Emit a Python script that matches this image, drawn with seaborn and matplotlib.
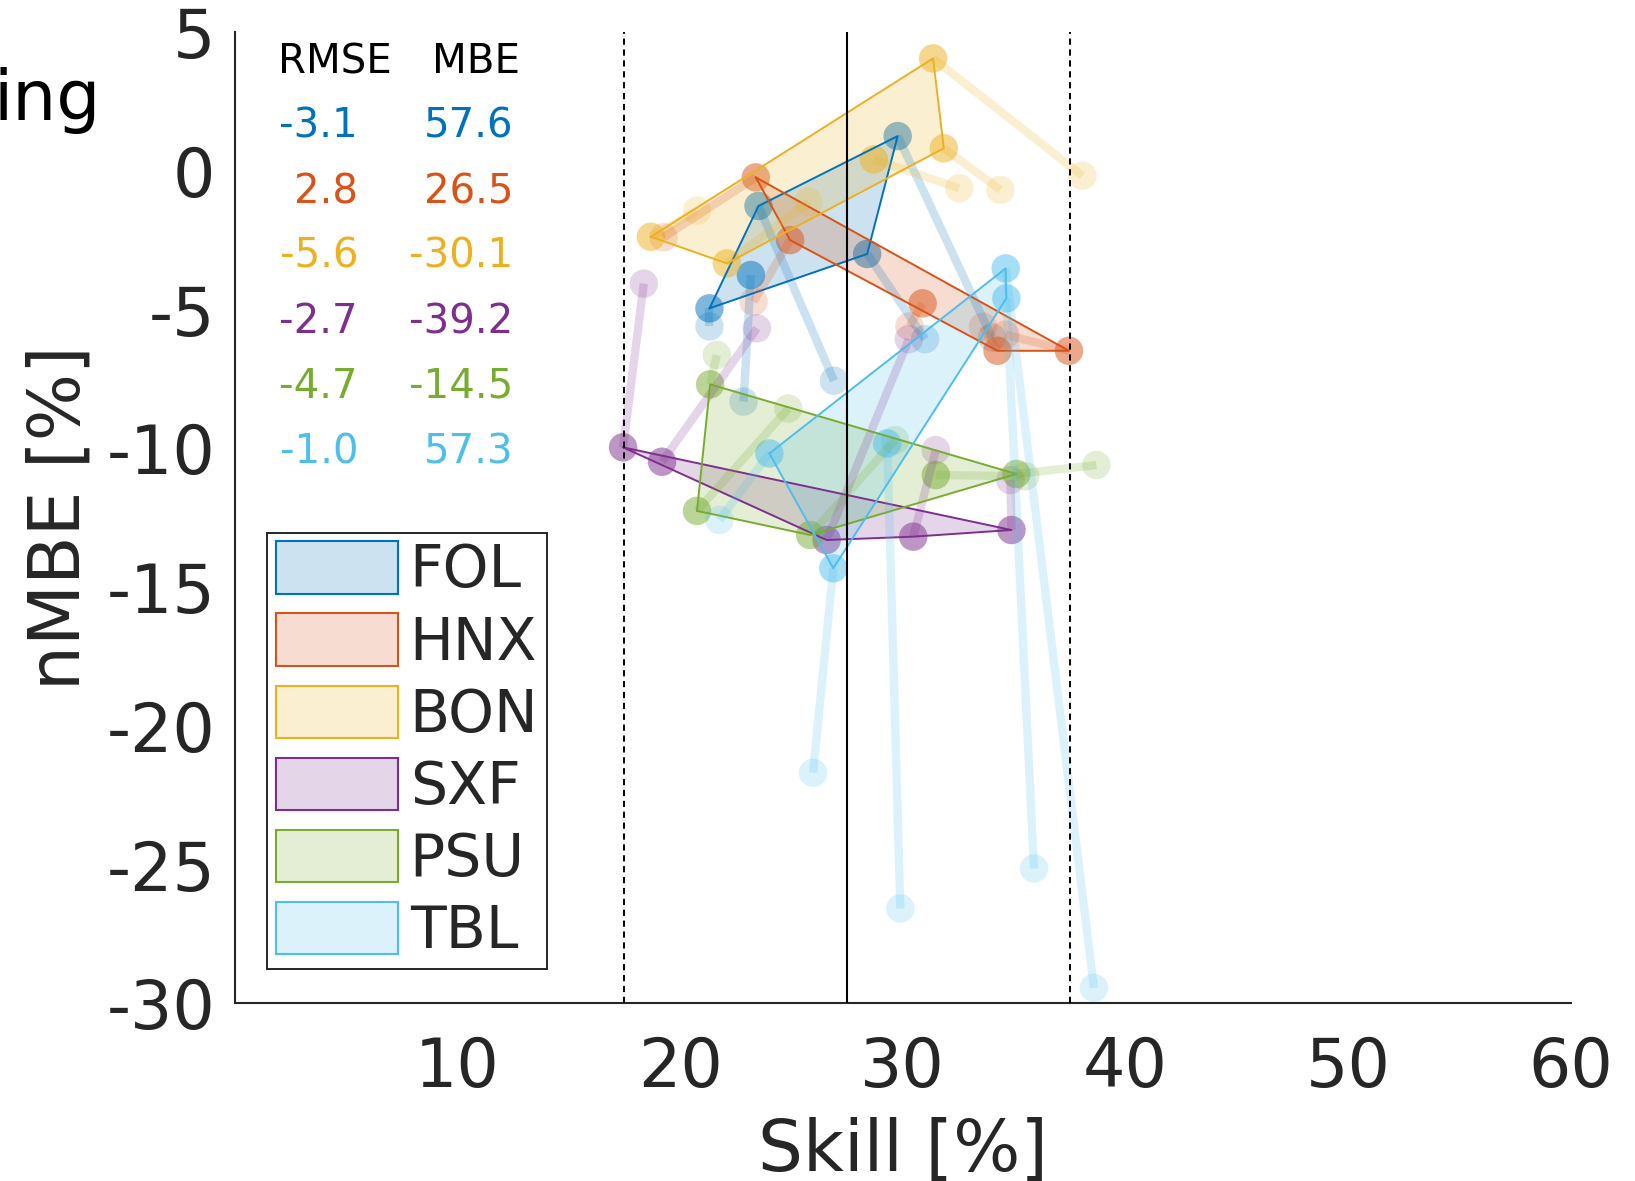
import numpy as np
import pandas as pd
import matplotlib
matplotlib.use("Agg")
import matplotlib.pyplot as plt
import seaborn as sns
from matplotlib.patches import Patch
from matplotlib.colors import to_rgba

# ---------------- data ----------------
stations = ["FOL", "HNX", "BON", "SXF", "PSU", "TBL"]
colors = ["#0072BD", "#D95319", "#EDB120", "#7E2F8E", "#77AC30", "#4DBEEE"]

# highlighted configuration (solid markers, hull polygon)
skill_main = [
    [29.77, 28.40, 21.32, 23.52, 23.18],
    [23.40, 24.94, 30.89, 34.25, 37.46],
    [18.69, 31.36, 31.84, 22.10, 28.70],
    [17.44, 19.19, 26.58, 30.47, 34.88],
    [21.35, 20.76, 25.84, 31.48, 35.10],
    [24.01, 26.88, 34.62, 34.65, 29.30],
]
nmbe_main = [
    [1.26, -2.99, -4.95, -1.26, -3.75],
    [-0.23, -2.49, -4.77, -6.48, -6.48],
    [-2.37, 4.06, 0.82, -3.33, 0.42],
    [-9.96, -10.48, -13.30, -13.18, -12.94],
    [-7.69, -12.25, -13.12, -10.96, -10.92],
    [-10.18, -14.32, -3.51, -4.59, -9.82],
]
# alternative configuration (faint markers, linked to the main ones)
skill_alt = [
    [34.00, 31.00, 21.32, 26.91, 22.85],
    [19.26, 23.30, 30.30, 33.60, 34.60],
    [20.76, 38.06, 34.38, 25.76, 32.53],
    [18.37, 23.45, 30.27, 31.48, 34.83],
    [21.65, 24.86, 29.65, 35.50, 38.69],
    [21.77, 25.97, 38.58, 35.89, 29.89],
]
nmbe_alt = [
    [-6.00, -6.06, -5.60, -7.56, -8.31],
    [-2.39, -4.71, -5.60, -5.61, -5.90],
    [-1.43, -0.17, -0.68, -1.11, -0.62],
    [-4.06, -5.67, -6.06, -10.06, -11.14],
    [-6.63, -8.56, -9.70, -11.00, -10.60],
    [-12.58, -21.69, -29.44, -25.14, -26.58],
]
rmse_change = [-3.1, 2.8, -5.6, -2.7, -4.7, -1.0]
mbe_change = [57.6, 26.5, -30.1, -39.2, -14.5, 57.3]

x_ticks = [10, 20, 30, 40, 50, 60]
y_ticks = [5, 0, -5, -10, -15, -20, -25, -30]
skill_center = 27.5
skill_band = [17.5, 37.5]


def convex_hull(xs, ys):
    pts = sorted(set(zip(xs, ys)))

    def cross(o, a, b):
        return (a[0] - o[0]) * (b[1] - o[1]) - (a[1] - o[1]) * (b[0] - o[0])

    lower, upper = [], []
    for p in pts:
        while len(lower) >= 2 and cross(lower[-2], lower[-1], p) <= 0:
            lower.pop()
        lower.append(p)
    for p in reversed(pts):
        while len(upper) >= 2 and cross(upper[-2], upper[-1], p) <= 0:
            upper.pop()
        upper.append(p)
    hull = lower[:-1] + upper[:-1]
    return [p[0] for p in hull], [p[1] for p in hull]


# ---------------- style ----------------
sns.set_theme(style="white")
plt.rcParams["font.family"] = ["DejaVu Sans"]
dark = "#262626"

W, H = 1635, 1181
fig = plt.figure(figsize=(W / 100, H / 100), dpi=100)
ax = fig.add_axes([234.6 / W, 1 - 1003.3 / H, (1571 - 234.6) / W, (1003.3 - 32.3) / H])

for i, st in enumerate(stations):
    c = colors[i]
    n = len(skill_main[i])
    df_lines = pd.DataFrame({
        "skill": skill_main[i] + skill_alt[i],
        "nmbe": nmbe_main[i] + nmbe_alt[i],
        "pair": list(range(n)) * 2,
    })
    sns.lineplot(data=df_lines, x="skill", y="nmbe", units="pair", estimator=None,
                 sort=False, color=c, lw=6, alpha=0.2, ax=ax, legend=False,
                 solid_capstyle="butt")
    sns.scatterplot(x=skill_alt[i], y=nmbe_alt[i], color=c, alpha=0.2, s=420,
                    edgecolor="none", ax=ax, legend=False)
    sns.scatterplot(x=skill_main[i], y=nmbe_main[i], color=c, alpha=0.5, s=420,
                    edgecolor="none", ax=ax, legend=False)
    hx, hy = convex_hull(skill_main[i], nmbe_main[i])
    ax.fill(hx, hy, color=c, alpha=0.2, lw=0)
    ax.plot(hx + [hx[0]], hy + [hy[0]], color=c, lw=1.4)

ax.axvline(skill_center, color="black", lw=1.5, zorder=5)
for xv in skill_band:
    ax.axvline(xv, color="black", lw=1.4, ls=(0, (3.2, 2.4)), zorder=5)

ax.set_xlim(0, 60)
ax.set_ylim(-30, 5)
ax.set_xticks(x_ticks)
ax.set_yticks(y_ticks)
ax.set_xticklabels([str(t) for t in x_ticks])
ax.set_yticklabels([str(t) for t in y_ticks])
for s in ["top", "right"]:
    ax.spines[s].set_visible(False)
for s in ["left", "bottom"]:
    ax.spines[s].set_color(dark)
    ax.spines[s].set_linewidth(1.5)
ax.tick_params(axis="both", direction="in", length=10, width=1.2, colors=dark,
               labelsize=48, labelcolor=dark)
ax.tick_params(axis="x", pad=23)
ax.tick_params(axis="y", pad=14)

ax.set_xlabel("Skill [%]", fontsize=51, color=dark)
ax.set_ylabel("nMBE [%]", fontsize=51, color=dark)
ax.xaxis.set_label_coords(0.5, -0.117)
ax.yaxis.set_label_coords(-0.105, 0.5)

# legend
handles = [Patch(facecolor=to_rgba(c, 0.2), edgecolor=c, lw=1.5) for c in colors]
leg = ax.legend(handles, stations, loc="lower left", bbox_to_anchor=(0.0245, 0.0357),
                borderaxespad=0, fontsize=42, handlelength=2.09, handleheight=1.0,
                handletextpad=0.2, labelspacing=0.24, borderpad=0.15,
                fancybox=False, framealpha=1, edgecolor=dark)
leg.get_frame().set_linewidth(1.4)
leg.set_zorder(10)

# RMSE / MBE table
fs_tab = 29
fig.text(278.5 / W, 1 - 73 / H, "RMSE", fontsize=fs_tab, color="black", ha="left", va="baseline")
fig.text(432 / W, 1 - 73 / H, "MBE", fontsize=fs_tab, color="black", ha="left", va="baseline")
for i, c in enumerate(colors):
    yb = 1 - (138 + 65 * i) / H
    fig.text(358 / W, yb, f"{rmse_change[i]:.1f}", fontsize=fs_tab, color=c, ha="right", va="baseline")
    fig.text(513 / W, yb, f"{mbe_change[i]:.1f}", fontsize=fs_tab, color=c, ha="right", va="baseline")

# clipped title fragment at top-left
fig.text(-6.5 / W, 1 - 120 / H, "ing", fontsize=50, color="black", ha="left", va="baseline")

fig.savefig("out.png", dpi=100)
